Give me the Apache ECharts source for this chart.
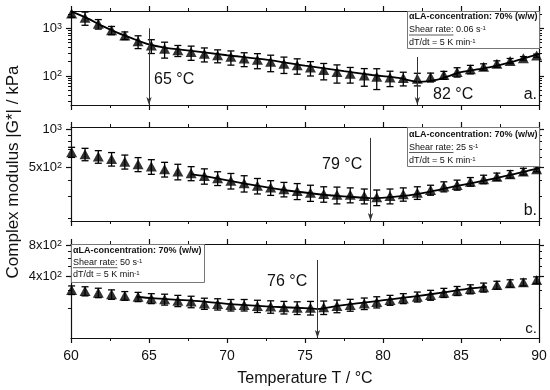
<!DOCTYPE html>
<html><head><meta charset="utf-8">
<script src="https://cdn.jsdelivr.net/npm/echarts@6/dist/echarts.min.js"></script>
<style>html,body{margin:0;padding:0;background:#fff}#c{width:550px;height:390px}</style>
</head><body><div id="c"></div>
<script>
// ---------- data ----------
const temperature = [60.04, 60.9, 61.75, 62.6, 63.45, 64.3, 65.15, 66.0, 66.85, 67.7, 68.55, 69.4, 70.25, 71.1, 71.95, 72.8, 73.65, 74.5, 75.35, 76.2, 77.05, 77.9, 78.8, 79.6, 80.45, 81.3, 82.2, 83.05, 83.9, 84.75, 85.6, 86.45, 87.3, 88.15, 89.0, 89.85];

const modulusA = [2050, 1670, 1240, 912, 708, 535, 436, 374, 346, 318, 292, 271, 252, 232, 218, 198, 181, 169, 150, 133, 121, 111, 102, 97, 93, 91, 88, 95, 105, 122, 139, 156, 180, 207, 235, 268];
const errorA   = [350, 515, 280, 180, 130, 160, 140, 137, 90, 105, 95, 82, 83, 75, 76, 75, 68, 60, 50, 50, 50, 40, 41, 45, 33, 29, 26, 20, 20, 27, 28, 24, 28, 26, 20, 20];

const modulusB = [661, 637, 610, 585, 557, 532, 510, 486, 466, 452, 430, 413, 395, 377, 361, 349, 339, 328, 318, 311, 306, 306, 300, 293, 300, 310, 318, 334, 355, 366, 388, 405, 425, 444, 466, 486];
const errorB   = [60, 71, 69, 71, 70, 67, 67, 64, 65, 57, 59, 51, 55, 55, 50, 46, 44, 47, 46, 43, 46, 41, 40, 41, 40, 37, 36, 30, 32, 33, 30, 31, 28, 30, 28, 22];

const modulusC = [299, 292, 282, 272, 264, 258, 249, 244, 237, 232, 223, 220, 216, 216, 211, 208, 205, 203, 203, 205, 211, 216, 223, 230, 240, 249, 258, 268, 282, 294, 305, 317, 333, 346, 354, 372];
const errorC   = [28, 29, 29, 28, 25, 26, 27, 29, 29, 29, 27, 27, 27, 27, 28, 28, 28, 28, 30, 30, 29, 28, 28, 28, 26, 27, 28, 29, 28, 29, 30, 31, 29, 28, 27, 27];

// fitted curves
const fitTempA = [60, 61, 62, 63, 64, 65, 66, 67.6, 70, 72.5, 75, 77.5, 79.3, 81, 82.3, 83.5, 85, 86.8, 88.4, 90];
const fitA     = [2260, 1650, 1120, 800, 600, 460, 395, 340, 272, 221, 165, 126, 105, 91, 75, 84, 120, 152, 203, 290];
const fitTempB = [67.7, 68.5, 70.2, 71.9, 73.65, 75.36, 77.07, 78.74, 79.3, 81.3, 83.06, 84.76, 86.47, 88.19, 90];
const fitB     = [445, 430, 394, 361, 334, 315, 300, 291, 287, 300, 325, 360, 395, 438, 495];
const fitTempC = [64.2, 65.2, 67.74, 70.19, 72.76, 75.32, 75.8, 77.07, 79.6, 80.5, 82.2, 83.9, 85.62, 86.65];
const fitC     = [258, 250, 237, 220, 208, 200, 197, 211, 235, 244, 262, 284, 310, 321];

// marked temperatures (arrows): x and upper end of arrow
const arrowTempA = [65, 82.2];   const arrowTopA = [1000, 250];
const arrowTempB = [79.2];       const arrowTopB = [855];
const arrowTempC = [75.8];       const arrowTopC = [576];
const arrowText = [['65 °C', '82 °C'], ['79 °C'], ['76 °C']];

// axes / ticks
const xMin = 60, xMax = 90, xStep = 5;
const yRangeA = [24.7, 2300], yRangeB = [191, 1040], yRangeC = [104.7, 818];
const yMajorA = [100, 1000], yLabelA = ['10^2', '10^3'];
const yMajorB = [500, 1000], yLabelB = ['5x10^2', '10^3'];
const yMajorC = [400, 800],  yLabelC = ['4x10^2', '8x10^2'];
const yMinorA = [30, 40, 50, 60, 70, 80, 90, 200, 300, 400, 500, 600, 700, 800, 900, 2000];
const yMinorB = [200, 300, 400, 600, 700, 800, 900];
const yMinorC = [200, 300, 500, 600, 700];

const shearRates = ['0.06', '25', '50'];
const panelLetters = ['a.', 'b.', 'c.'];
const xTitle = 'Temperature T / °C';
const yTitle = 'Complex modulus |G*| / kPa';

// ---------- layout ----------
const FONT = '"Liberation Sans", Arial, sans-serif';
const INK = '#111';
const gridTop = [11, 127, 244], gridH = 94, gridL = 71, gridW = 468;

const panels = [
  {v: modulusA, e: errorA, ft: fitTempA, fv: fitA, yr: yRangeA, maj: yMajorA, lab: yLabelA, min: yMinorA, at: arrowTempA, atop: arrowTopA},
  {v: modulusB, e: errorB, ft: fitTempB, fv: fitB, yr: yRangeB, maj: yMajorB, lab: yLabelB, min: yMinorB, at: arrowTempB, atop: arrowTopB},
  {v: modulusC, e: errorC, ft: fitTempC, fv: fitC, yr: yRangeC, maj: yMajorC, lab: yLabelC, min: yMinorC, at: arrowTempC, atop: arrowTopC}
];

function supLabel(s) {
  const p = s.split('^');
  return '{b|' + p[0] + '}{s|' + p[1] + '}';
}

const grids = [], xAxes = [], yAxes = [], series = [];
panels.forEach((p, i) => {
  grids.push({left: gridL, top: gridTop[i], width: gridW, height: gridH, show: false});
  ['bottom', 'top'].forEach(pos => {
    xAxes.push({
      type: 'value', gridIndex: i, position: pos, min: xMin, max: xMax, interval: xStep,
      axisLine: {show: true, onZero: false, lineStyle: {color: INK, width: 1.2}},
      axisTick: {show: true, inside: false, length: 5, lineStyle: {color: INK, width: 1.2}},
      minorTick: {show: true, splitNumber: 2, length: 3, lineStyle: {color: INK, width: 1}},
      splitLine: {show: false}, minorSplitLine: {show: false},
      axisLabel: {show: pos === 'bottom' && i === 2, margin: 11, fontSize: 14, color: INK, fontFamily: FONT}
    });
  });
  ['left', 'right'].forEach(pos => {
    yAxes.push({
      type: 'log', logBase: 10, gridIndex: i, position: pos, min: p.yr[0], max: p.yr[1],
      axisLine: {show: true, onZero: false, lineStyle: {color: INK, width: 1.2}},
      axisTick: {show: true, inside: false, length: 5, customValues: p.maj, lineStyle: {color: INK, width: 1.2}},
      splitLine: {show: false},
      axisLabel: {
        show: pos === 'left', customValues: p.maj, margin: 9, fontFamily: FONT, color: INK,
        formatter: v => { const k = p.maj.findIndex(m => Math.abs(m - v) / m < 1e-6); return k < 0 ? '' : supLabel(p.lab[k]); },
        rich: {b: {fontSize: 13, fontFamily: FONT, color: INK}, s: {fontSize: 9, fontFamily: FONT, color: INK, verticalAlign: 'top', padding: [0, 0, 3, 0]}}
      }
    });
    yAxes.push({
      type: 'log', logBase: 10, gridIndex: i, position: pos, min: p.yr[0], max: p.yr[1],
      axisLine: {show: false},
      axisTick: {show: true, inside: false, length: 3, customValues: p.min, lineStyle: {color: INK, width: 1}},
      splitLine: {show: false},
      axisLabel: {show: false}
    });
  });
  const yIdx = i * 4, xIdx = i * 2;
  // error bars
  series.push({
    type: 'custom', xAxisIndex: xIdx, yAxisIndex: yIdx, z: 2,
    data: temperature.map((t, k) => [t, p.v[k] - p.e[k], p.v[k] + p.e[k]]),
    encode: {x: 0, y: [1, 2]},
    renderItem: (params, api) => {
      const cs = params.coordSys;
      const a = api.coord([api.value(0), api.value(1)]);
      const b = api.coord([api.value(0), api.value(2)]);
      const top = cs.y, bot = cs.y + cs.height;
      const st = {stroke: '#000', lineWidth: 1.3};
      const ch = [];
      const y1 = Math.min(a[1], bot), y2 = Math.max(b[1], top);
      ch.push({type: 'line', shape: {x1: a[0], y1: y1, x2: b[0], y2: y2}, style: st});
      if (a[1] <= bot) ch.push({type: 'line', shape: {x1: a[0] - 3.5, y1: a[1], x2: a[0] + 3.5, y2: a[1]}, style: st});
      if (b[1] >= top) ch.push({type: 'line', shape: {x1: b[0] - 3.5, y1: b[1], x2: b[0] + 3.5, y2: b[1]}, style: st});
      return {type: 'group', children: ch};
    }
  });
  // fit curve
  series.push({
    type: 'line', xAxisIndex: xIdx, yAxisIndex: yIdx, z: 3, smooth: 0.25, showSymbol: false, symbol: 'none',
    data: p.ft.map((t, k) => [t, p.fv[k]]),
    lineStyle: {color: '#000', width: 1.8}, clip: true
  });
  // data points
  series.push({
    type: 'scatter', xAxisIndex: xIdx, yAxisIndex: yIdx, z: 4, symbol: 'triangle', symbolSize: [11, 10],
    itemStyle: {color: '#000'},
    data: temperature.map((t, k) => [t, p.v[k]]),
    markLine: {
      silent: true, symbol: ['none', 'arrow'], symbolSize: [4, 8], animation: false,
      lineStyle: {color: '#333', width: 1, type: 'solid'}, label: {show: false},
      data: p.at.map((t, k) => [{coord: [t, p.atop[k]]}, {coord: [t, p.yr[0]]}])
    }
  });
});

// ---------- text / boxes ----------
const graphic = [];
function txt(x, y, text, size, opts) {
  graphic.push(Object.assign({type: 'text', x: x, y: y, z: 100,
    style: Object.assign({text: text, fontSize: size, fontFamily: FONT, fill: INK, textAlign: 'left', textVerticalAlign: 'middle'}, opts || {})}));
}
// axis titles
graphic.push({type: 'text', x: 13, y: 172, rotation: Math.PI / 2, z: 100,
  style: {text: yTitle, fontSize: 17, fontFamily: FONT, fill: INK, textAlign: 'center', textVerticalAlign: 'middle'}});
txt(305, 379, xTitle, 16, {textAlign: 'center'});
// panel letters
[[537, 95], [537, 211], [537, 329]].forEach((pt, i) => txt(pt[0], pt[1], panelLetters[i], i === 2 ? 15 : 16, {textAlign: 'right'}));
// temperature annotations
txt(154, 80, arrowText[0][0], 16);
txt(433, 95, arrowText[0][1], 16);
txt(322, 165, arrowText[1][0], 16);
txt(267, 282, arrowText[2][0], 16);
// legend boxes
const boxes = [{x: 407, y: 11, w: 132, h: 37, l: [16.7, 30, 42.7]},
               {x: 407, y: 127, w: 132, h: 39, l: [135, 147.5, 160.5]},
               {x: 71, y: 244, w: 133, h: 38, l: [250.7, 262.7, 275]}];
const legRich = {sup: {fontSize: 6, fontFamily: FONT, fill: INK, verticalAlign: 'top'}};
boxes.forEach((b, i) => {
  graphic.push({type: 'rect', z: 90, shape: {x: b.x + 0.5, y: b.y + 0.5, width: b.w, height: b.h},
    style: {fill: '#fff', stroke: '#777', lineWidth: 1}});
  const tx = b.x + 2;
  txt(tx, b.l[0], 'αLA-concentration: 70% (w/w)', 9, {fontWeight: 'bold'});
  txt(tx, b.l[1], 'Shear rate: ' + shearRates[i] + ' s{sup|-1}', 9, {rich: legRich});
  txt(tx, b.l[2], 'dT/dt = 5 K min{sup|-1}', 9, {rich: legRich});
  graphic.push({type: 'line', z: 100, shape: {x1: tx, y1: b.l[1] + 5, x2: tx + 44.5, y2: b.l[1] + 5}, style: {stroke: '#333', lineWidth: 0.8}});
});

const chart = echarts.init(document.getElementById('c'), null, {renderer: 'canvas'});
chart.setOption({
  animation: false,
  backgroundColor: '#fff',
  grid: grids, xAxis: xAxes, yAxis: yAxes, series: series, graphic: graphic
});
</script>
</body></html>
